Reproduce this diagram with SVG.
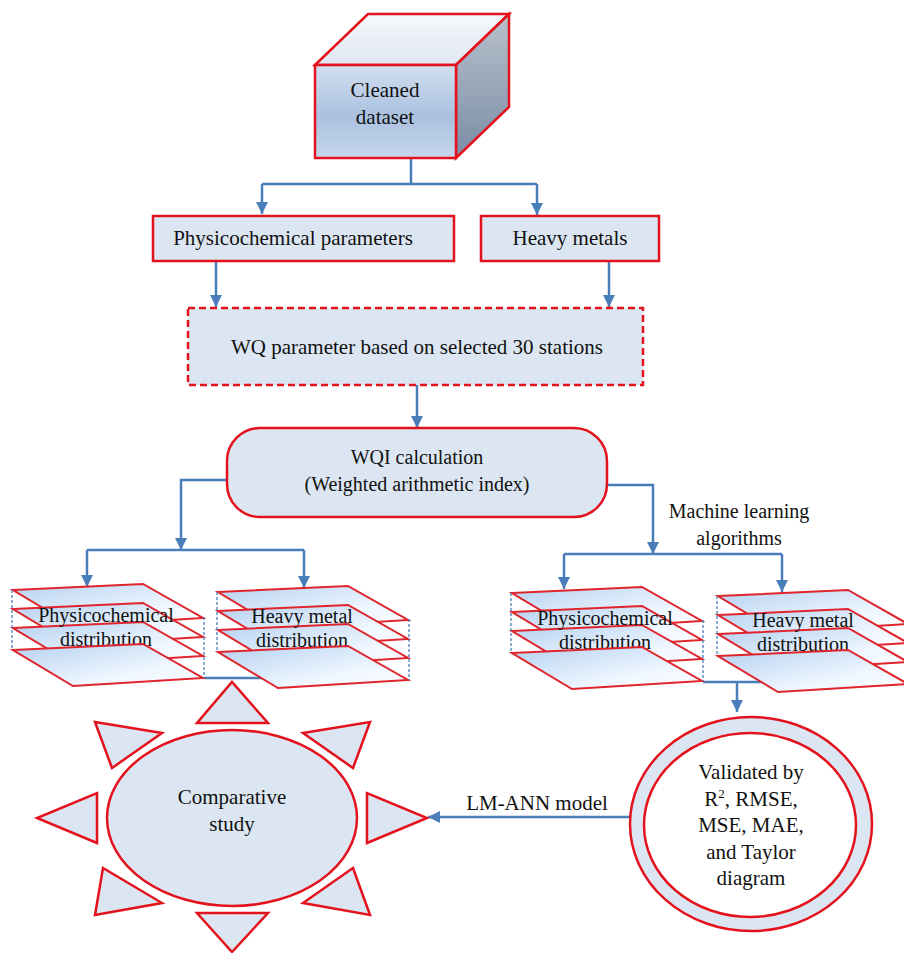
<svg xmlns="http://www.w3.org/2000/svg" width="904" height="953" viewBox="0 0 904 953" font-family="'Liberation Serif', 'Times New Roman', serif">
<defs>
<style>
svg, g, text, tspan{font-family:"Liberation Serif","Times New Roman",serif}
text{fill:#111;text-anchor:middle}
.t21{font-size:21px}
.t20{font-size:20px}
.box{fill:#dce6f2;stroke:#e3121c;stroke-width:2.5}
.red{stroke:#e3121c;stroke-width:2.5;stroke-linejoin:miter}
.conn{fill:none;stroke:#4a7ebb;stroke-width:2.5}
.layer{fill:url(#lg);stroke:#e0242c;stroke-width:2}
.dash{fill:none;stroke:#4a7ebb;stroke-width:1.3;stroke-dasharray:3,2}
</style>
<linearGradient id="lg" x1="0" y1="0" x2="1" y2="1">
<stop offset="0" stop-color="#b5d1f0"/>
<stop offset="0.65" stop-color="#eef6ff"/>
<stop offset="1" stop-color="#ffffff"/>
</linearGradient>
<linearGradient id="front" x1="0" y1="0" x2="0" y2="1">
<stop offset="0" stop-color="#d2dff0"/>
<stop offset="0.55" stop-color="#a9c1df"/>
<stop offset="1" stop-color="#c6d7ec"/>
</linearGradient>
<linearGradient id="topf" x1="0" y1="0" x2="0" y2="1">
<stop offset="0" stop-color="#f6f8fc"/>
<stop offset="1" stop-color="#dfe7f2"/>
</linearGradient>
<linearGradient id="side" x1="0" y1="0" x2="0" y2="1">
<stop offset="0" stop-color="#b9c1cc"/>
<stop offset="1" stop-color="#7a8da6"/>
</linearGradient>
<marker id="ah" viewBox="0 0 12 12" refX="12" refY="6" markerWidth="12" markerHeight="12" markerUnits="userSpaceOnUse" orient="auto">
<path d="M0,0 L12,6 L0,12 Z" fill="#4a7ebb"/>
</marker>
<g id="stackL">
<path class="layer" d="M0,0 L130,-6 L190,28 L60,36 Z"/>
<path class="layer" d="M0,19 L130,13 L190,47 L60,55 Z"/>
<path class="layer" d="M0,38 L130,32 L190,66 L60,74 Z"/>
</g>
<g id="stackB">
<path class="layer" d="M0,60 L130,54 L190,88 L60,96 Z"/>
<path class="dash" d="M-1,0 V60 M191,27 V88"/>
</g>
</defs>
<rect width="904" height="953" fill="#ffffff"/>

<g id="connectors">
<path class="conn" d="M411,158 V184 M262,184 H537"/>
<path class="conn" d="M262,184 V214" marker-end="url(#ah)"/>
<path class="conn" d="M537,184 V215" marker-end="url(#ah)"/>
<path class="conn" d="M216,261 V307" marker-end="url(#ah)"/>
<path class="conn" d="M609,261 V307" marker-end="url(#ah)"/>
<path class="conn" d="M417,385 V428" marker-end="url(#ah)"/>
<path class="conn" d="M227,480 H181 V550" marker-end="url(#ah)"/>
<path class="conn" d="M87,550 H304"/>
<path class="conn" d="M87,550 V587" marker-end="url(#ah)"/>
<path class="conn" d="M304,550 V588" marker-end="url(#ah)"/>
<path class="conn" d="M607,485 H653 V554" marker-end="url(#ah)"/>
<path class="conn" d="M564,554 H782"/>
<path class="conn" d="M564,554 V589" marker-end="url(#ah)"/>
<path class="conn" d="M782,554 V592" marker-end="url(#ah)"/>
<path class="conn" d="M204,678 H264"/>
<path class="conn" d="M703,682 H762 M737,682 V712" marker-end="url(#ah)"/>
<path class="conn" d="M630,817 H428" marker-end="url(#ah)"/>
</g>

<g id="cube" font-family="'Liberation Serif', serif">
<path class="red" fill="url(#topf)" d="M315,65 L368,14 L509,14 L456,65 Z"/>
<path class="red" fill="url(#side)" d="M456,65 L509,14 L509,107 L456,158 Z"/>
<rect class="red" fill="url(#front)" x="315" y="65" width="141" height="93"/>
<text class="t21" x="385" y="97" font-family="'Liberation Serif', serif">Cleaned</text>
<text class="t21" x="385" y="124" font-family="'Liberation Serif', serif">dataset</text>
</g>

<g id="physico-params">
<rect class="box" x="153" y="216" width="301" height="45"/>
<text class="t21" x="293" y="245" font-family="'Liberation Serif', serif">Physicochemical parameters</text>
</g>

<g id="heavy-metals">
<rect class="box" x="481" y="216" width="178" height="45"/>
<text class="t21" x="570" y="245" font-family="'Liberation Serif', serif">Heavy metals</text>
</g>

<g id="wq-param">
<rect class="box" x="188" y="308" width="455" height="77" style="stroke-dasharray:7,4"/>
<text class="t21" x="417" y="354" font-family="'Liberation Serif', serif">WQ parameter based on selected 30 stations</text>
</g>

<g id="wqi">
<rect class="box" x="227" y="428" width="380" height="89" rx="33"/>
<text class="t20" x="417" y="464" font-family="'Liberation Serif', serif">WQI calculation</text>
<text class="t20" x="417" y="491" font-family="'Liberation Serif', serif">(Weighted arithmetic index)</text>
</g>

<text id="ml-label" class="t20" x="739" y="518" font-family="'Liberation Serif', serif">Machine learning</text>
<text class="t20" x="739" y="545" font-family="'Liberation Serif', serif">algorithms</text>

<g id="stack1" transform="translate(13,590)">
<use href="#stackL"/>
<text class="t20" x="93" y="32" font-family="'Liberation Serif', serif">Physicochemical</text>
<text class="t20" x="93" y="56" font-family="'Liberation Serif', serif">distribution</text>
<use href="#stackB"/>
</g>

<g id="stack2" transform="translate(218,592)">
<use href="#stackL"/>
<text class="t20" x="84" y="31" font-family="'Liberation Serif', serif">Heavy metal</text>
<text class="t20" x="84" y="55" font-family="'Liberation Serif', serif">distribution</text>
<use href="#stackB"/>
</g>

<g id="stack3" transform="translate(512,593)">
<use href="#stackL"/>
<text class="t20" x="93" y="32" font-family="'Liberation Serif', serif">Physicochemical</text>
<text class="t20" x="93" y="56" font-family="'Liberation Serif', serif">distribution</text>
<use href="#stackB"/>
</g>

<g id="stack4" transform="translate(718,596)">
<use href="#stackL"/>
<text class="t20" x="85" y="31" font-family="'Liberation Serif', serif">Heavy metal</text>
<text class="t20" x="85" y="55" font-family="'Liberation Serif', serif">distribution</text>
<use href="#stackB"/>
</g>

<g id="comparative">
<g class="box">
<path d="M197,723 L268,723 L232,682 Z"/>
<path d="M197,913 L268,913 L232,952 Z"/>
<path d="M367,793 L367,843 L427,818 Z"/>
<path d="M97,793 L97,843 L37,818 Z"/>
<path d="M303,733 L370,722 L353,768 Z"/>
<path d="M95,722 L162,733 L112,768 Z"/>
<path d="M103,868 L162,903 L95,915 Z"/>
<path d="M353,868 L303,903 L370,915 Z"/>
</g>
<ellipse class="box" cx="232" cy="818" rx="125" ry="88"/>
<text class="t21" x="232" y="804" font-family="'Liberation Serif', serif">Comparative</text>
<text class="t21" x="232" y="831" font-family="'Liberation Serif', serif">study</text>
</g>

<text id="lm-label" class="t21" x="537" y="810" font-family="'Liberation Serif', serif">LM-ANN model</text>

<g id="validated">
<ellipse cx="751" cy="824" rx="121" ry="107" fill="#dce6f2" stroke="#e3121c" stroke-width="2.5"/>
<ellipse cx="750" cy="825" rx="106" ry="92" fill="#ffffff" stroke="#e3121c" stroke-width="2.5"/>
<text class="t21" x="751" y="779" font-family="'Liberation Serif', serif">Validated by</text>
<text class="t21" x="751" y="806" font-family="'Liberation Serif', serif">R<tspan font-size="13" dy="-8">2</tspan><tspan dy="8">, RMSE,</tspan></text>
<text class="t21" x="751" y="832" font-family="'Liberation Serif', serif">MSE, MAE,</text>
<text class="t21" x="751" y="859" font-family="'Liberation Serif', serif">and Taylor</text>
<text class="t21" x="751" y="885" font-family="'Liberation Serif', serif">diagram</text>
</g>
</svg>
